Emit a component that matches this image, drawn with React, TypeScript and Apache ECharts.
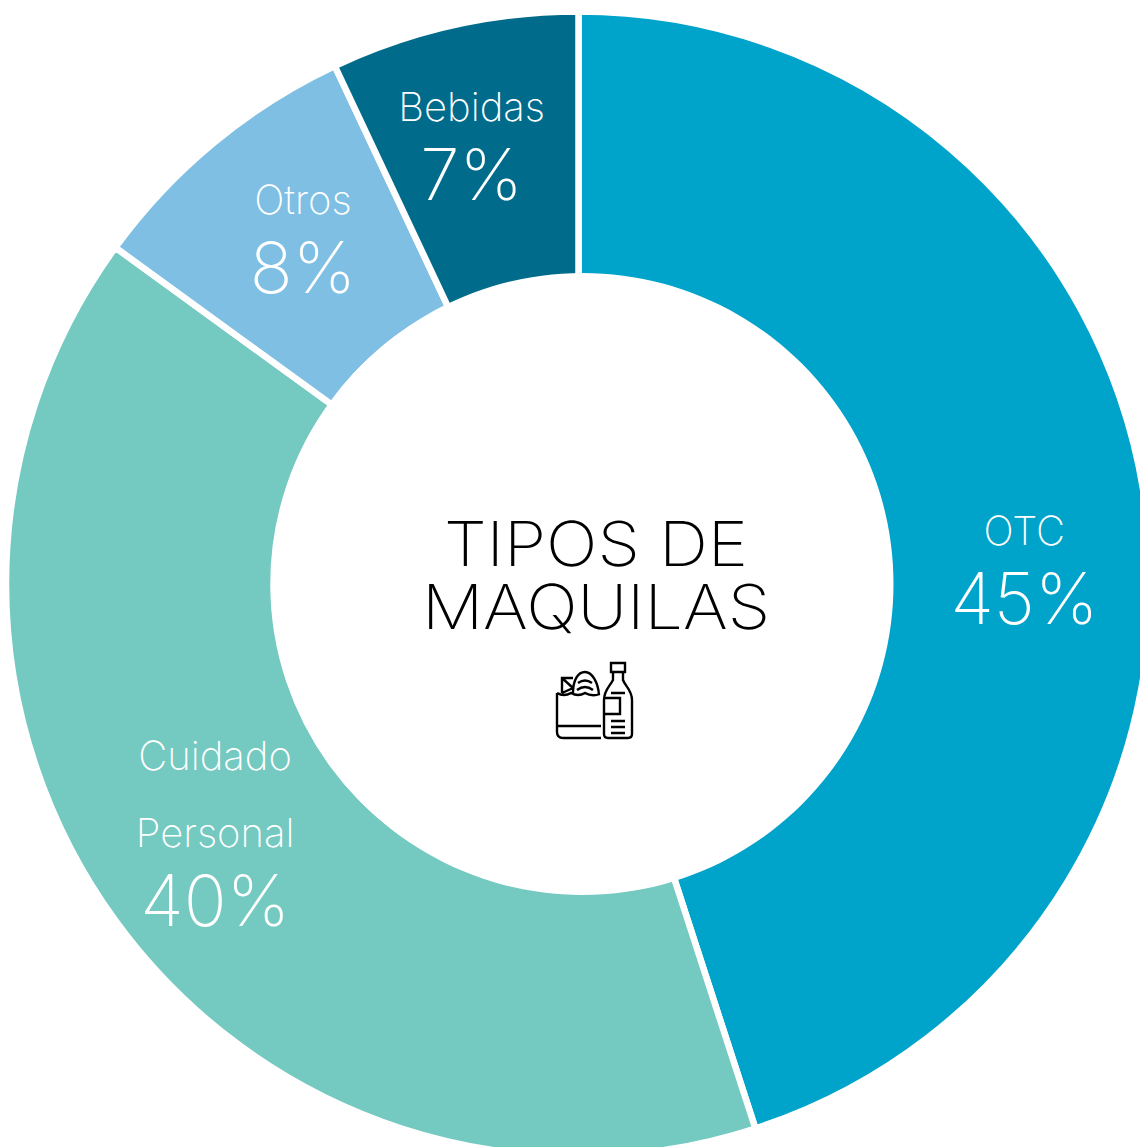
import React, { useEffect, useRef } from "react";
import * as echarts from "echarts";

const categories = ["OTC", "Cuidado\nPersonal", "Otros", "Bebidas"];
const values = [45, 40, 8, 7];
const colors = ["#00a3ca", "#74c9c1", "#7ebfe3", "#006b8a"];
const centerTitle = "TIPOS DE\nMAQUILAS";
const labelShiftX = [9.5, -6, 6, -10.5];
const labelShiftY = [45, -21, -15, -17];

const iconPath =
  "M17 43 L17 82 Q17 88 23 88 L61 88 M17 76 L61 76 M22 43 L22 28 L33 28 M22 28 L33 38 L22 43 " +
  "M33 43 C33 30 38 22 45 22 C52 22 58 32 59 45 M38 33 Q45 28 52 33 M37 40 Q45 34 53 40 M17 43 Q24 47 31 43 Q38 47 45 43 Q52 47 60 44 " +
  "M71 13 L85 13 L85 22 L71 22 Z M73 22 L73 30 C70 36 64 40 64 50 L64 84 Q64 88 68 88 L88 88 Q92 88 92 84 L92 50 C92 40 85 36 83 30 L83 22 " +
  "M71 43 L85 43 M64 48 L80 48 L80 64 L64 64 M71 71 L85 71 M71 77 L85 77 M71 83 L85 83";
echarts.graphic.registerShape("maquilaIcon", echarts.graphic.extendPath(iconPath as any, {}) as any);

export default function App() {
  const ref = useRef<HTMLDivElement>(null);
  useEffect(() => {
    const chart = echarts.init(ref.current!, undefined, { renderer: "svg" });
    chart.setOption({
      animation: false,
      series: [
        {
          type: "pie",
          center: [578.5, 584],
          radius: [305, 572.5],
          startAngle: 90,
          clockwise: true,
          silent: true,
          itemStyle: { borderColor: "#fff", borderWidth: 6.5 },
          label: {
            position: "inside",
            formatter: (p: any) =>
              p.name
                .split("\n")
                .map((s: string) => `{n|${s}}`)
                .join("\n") + `\n{v|${p.value}%}`,
            rich: {
              n: { fontFamily: "Inter", fontSize: 40, fontWeight: 200, color: "#fff", lineHeight: 77, align: "center" },
              v: { fontFamily: "Inter", fontSize: 71, fontWeight: 200, color: "#fff", lineHeight: 58, align: "center" },
            },
          },
          labelLayout: (p: any) => ({ dx: labelShiftX[p.dataIndex], dy: labelShiftY[p.dataIndex] }),
          labelLine: { show: false },
          data: categories.map((name, i) => ({ name, value: values[i], itemStyle: { color: colors[i] } })),
        },
      ],
      graphic: [
        {
          type: "circle",
          z: 10,
          shape: { cx: 582.5, cy: 584, r: 311 },
          style: { fill: "#fff" },
        },
        {
          type: "text",
          z: 11,
          x: 596,
          y: 575,
          scaleX: 1.1,
          style: {
            text: centerTitle,
            fontFamily: "Inter",
            fontWeight: 250,
            fontSize: 62,
            lineHeight: 63,
            fill: "#000",
            align: "center",
            verticalAlign: "middle",
          },
        },
        {
          type: "maquilaIcon",
          z: 11,
          x: 540,
          y: 650,
          style: { fill: "none", stroke: "#000", lineWidth: 2.4 },
        },
      ],
    });
    return () => chart.dispose();
  }, []);
  return <div ref={ref} style={{ position: "absolute", left: 0, top: 0, width: 1140, height: 1147 }} />;
}
